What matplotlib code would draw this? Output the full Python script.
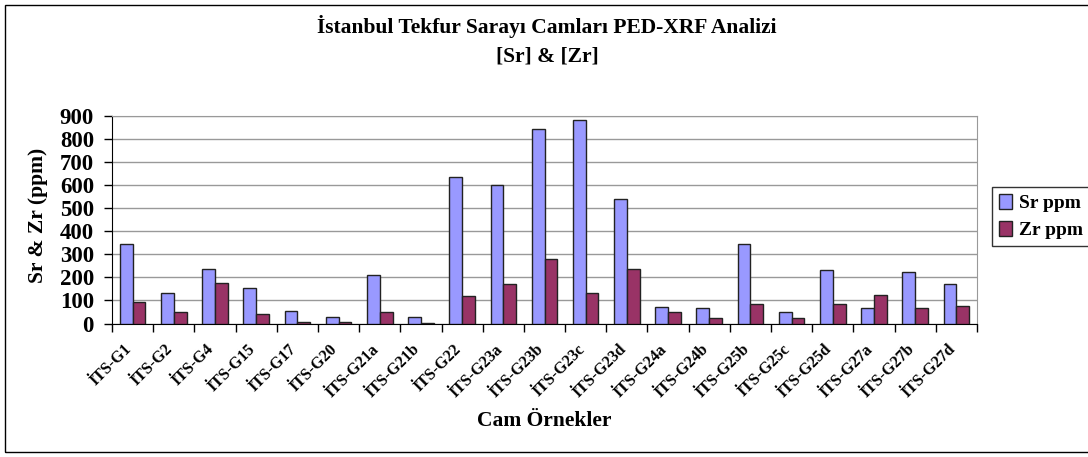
import numpy as np
import matplotlib
matplotlib.use("Agg")
import matplotlib.pyplot as plt
from matplotlib.patches import Rectangle
from matplotlib.transforms import ScaledTranslation

samples = ["İTS-G1", "İTS-G2", "İTS-G4", "İTS-G15", "İTS-G17", "İTS-G20",
           "İTS-G21a", "İTS-G21b", "İTS-G22", "İTS-G23a", "İTS-G23b", "İTS-G23c",
           "İTS-G23d", "İTS-G24a", "İTS-G24b", "İTS-G25b", "İTS-G25c", "İTS-G25d",
           "İTS-G27a", "İTS-G27b", "İTS-G27d"]
sr_ppm = [342, 130, 235, 155, 55, 29, 212, 29, 636, 598, 842, 880,
          538, 72, 66, 342, 48, 230, 66, 223, 173]
zr_ppm = [92, 49, 175, 42, 6, 6, 49, 4, 117, 173, 279, 130,
          234, 48, 22, 85, 22, 85, 124, 66, 74]

W, H = 1088, 457
plt.rcParams["font.family"] = ["Liberation Serif", "DejaVu Serif"]
plt.rcParams["font.weight"] = "bold"

fig = plt.figure(figsize=(W / 100, H / 100), dpi=100)
fig.patch.set_facecolor("white")

# outer chart border
fig.patches.append(Rectangle((5 / W, 5 / H), (W + 20) / W, (H - 10) / H,
                             transform=fig.transFigure, fill=False,
                             edgecolor="black", linewidth=1.0))

left, right, top, bottom = 112, 977, 115.5, 323.5
ax = fig.add_axes([left / W, 1 - bottom / H, (right - left) / W, (bottom - top) / H])

x = np.arange(len(samples))
bw = 0.31
ax.bar(x - bw / 2, sr_ppm, bw, color="#9999FF", edgecolor="#222222",
       linewidth=1.0, label="Sr ppm", zorder=3)
ax.bar(x + bw / 2, zr_ppm, bw, color="#993366", edgecolor="#222222",
       linewidth=1.0, label="Zr ppm", zorder=3)

ax.set_xlim(-0.5, len(samples) - 0.5)
ax.set_ylim(0, 900)
ax.set_yticks(range(0, 901, 100))
ax.yaxis.grid(True, color="#999999", linewidth=1.0, zorder=0)
ax.set_axisbelow(True)

# category separators as ticks
ax.set_xticks(np.arange(-0.5, len(samples), 1.0))
ax.set_xticklabels([])
ax.set_xticks(x, minor=True)
ax.set_xticklabels(samples, minor=True, rotation=45, ha="right",
                   rotation_mode="anchor", fontsize=11.5, fontweight="bold")
ax.tick_params(axis="x", which="minor", length=0, pad=10)
ax.tick_params(axis="x", which="major", length=6, width=1, direction="out")
ax.tick_params(axis="y", length=6, width=1, labelsize=16.5, pad=7)
shift = ScaledTranslation(-9 / 100, -4 / 100, fig.dpi_scale_trans)
for lbl in ax.get_xticklabels(minor=True):
    lbl.set_transform(lbl.get_transform() + shift)
for lbl in ax.get_yticklabels():
    lbl.set_fontweight("bold")

ax.spines["left"].set_color("black")
ax.spines["bottom"].set_color("black")
ax.spines["top"].set_color("#999999")
ax.spines["right"].set_color("#999999")

ax.set_ylabel("Sr & Zr (ppm)", fontsize=15.5, fontweight="bold")
ax.yaxis.set_label_coords((48 - left) / (right - left), 0.52)
fig.text(544 / W, 1 - 421 / H, "Cam Örnekler", ha="center", va="center",
         fontsize=15.5, fontweight="bold")

fig.text(547 / W, 1 - 27 / H, "İstanbul Tekfur Sarayı Camları PED-XRF Analizi",
         ha="center", va="center", fontsize=15.5, fontweight="bold")
fig.text(547 / W, 1 - 57 / H, "[Sr] & [Zr]", ha="center", va="center",
         fontsize=15.5, fontweight="bold")

leg = fig.legend(loc="upper left", bbox_to_anchor=(992 / W, 1 - 187 / H),
                 frameon=True, fancybox=False, edgecolor="black",
                 prop={"size": 14, "weight": "bold"}, handlelength=0.7,
                 handleheight=0.8, handletextpad=0.35, borderpad=0.35,
                 labelspacing=0.45, borderaxespad=0)
leg.get_frame().set_linewidth(1.0)

fig.savefig("out.png", dpi=100, facecolor="white")
